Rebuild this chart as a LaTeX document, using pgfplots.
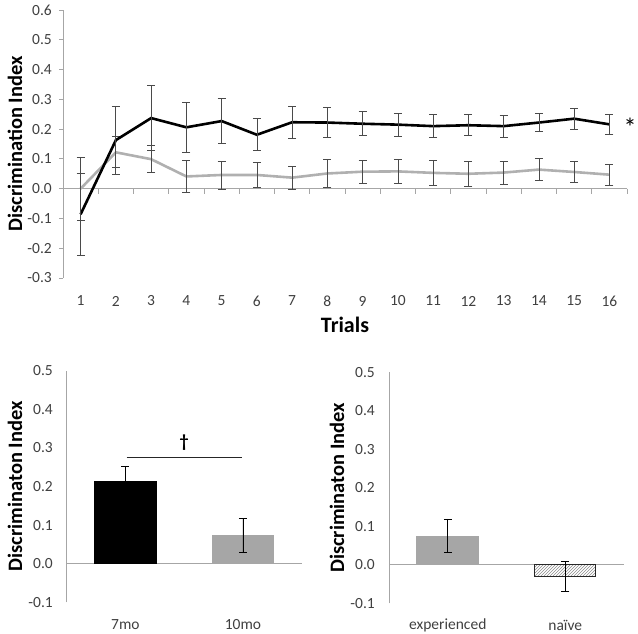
\documentclass[border=0pt]{standalone}
\usepackage{fontspec}
\setmainfont{Carlito}
\usepackage{pgfplots}
\pgfplotsset{compat=1.18}
\usetikzlibrary{patterns}
\definecolor{tickgray}{HTML}{404040}
\definecolor{axisgray}{HTML}{A6A6A6}
\definecolor{errgray}{HTML}{4A4A4A}
\definecolor{linegray}{HTML}{B0B0B0}
\definecolor{bargray}{HTML}{A6A6A6}
\definecolor{hatchgray}{HTML}{8C8C8C}

\pgfplotstableread{
x y e
1 -0.086 0.138
2 0.163 0.114
3 0.237 0.110
4 0.206 0.085
5 0.227 0.075
6 0.181 0.054
7 0.223 0.055
8 0.222 0.050
9 0.218 0.040
10 0.215 0.039
11 0.210 0.039
12 0.213 0.035
13 0.210 0.037
14 0.222 0.030
15 0.235 0.036
16 0.216 0.035
}\blackdata

\pgfplotstableread{
x y e
1 0.000 0.105
2 0.122 0.052
3 0.099 0.045
4 0.041 0.055
5 0.046 0.047
6 0.046 0.043
7 0.037 0.038
8 0.051 0.048
9 0.057 0.038
10 0.058 0.039
11 0.053 0.041
12 0.050 0.041
13 0.054 0.038
14 0.064 0.037
15 0.056 0.035
16 0.047 0.035
}\graydata

\pgfplotsset{
  common/.style={
    scale only axis,
    anchor=south west,
    clip=false,
    axis line style={draw=none},
    /pgf/number format/assume math mode=true,
    tick label style={font=\fontsize{15.5}{18}\selectfont, text=tickgray},
    yticklabel style={/pgf/number format/fixed, /pgf/number format/fixed zerofill, /pgf/number format/precision=1, anchor=east, inner sep=0pt},
    xticklabel style={anchor=center, inner sep=0pt},
    xtick style={draw=none},
    ytick pos=left,
    ylabel style={font=\bfseries\fontsize{20.5}{24}\selectfont, anchor=center},
  },
  errbars/.style={
    error bars/.cd, y dir=both, y explicit,
    error bar style={#1, line width=0.75pt},
    error mark options={#1, line width=0.75pt, mark size=4pt, rotate=90},
  },
  errbars/.default=errgray,
}

\begin{document}
\begin{tikzpicture}[x=1pt,y=1pt]
\useasboundingbox (0,0) rectangle (638,634);

% ---------------- top panel ----------------
\begin{axis}[common,
  at={(63pt,356pt)}, width=564pt, height=268pt,
  xmin=0.5, xmax=16.5, ymin=-0.3, ymax=0.6,
  xtick={1,2,3,4,5,6,7,8,9,10,11,12,13,14,15,16},
  ytick={-0.3,-0.2,-0.1,0,0.1,0.2,0.3,0.4,0.5,0.6},
  ytick style={axisgray, line width=0.8pt},
  tick align=outside, major tick length=4pt,
  yticklabel style={xshift=-7pt},
  xticklabel style={yshift=-19pt},
  xlabel={Trials},
  xlabel style={at={(axis description cs:0.5,-0.175)}, anchor=center, font=\bfseries\fontsize{22}{26}\selectfont},
  ylabel={Discrimination Index},
  ylabel style={at={(axis description cs:-0.0851,0.5)}},
]
\draw[axisgray, line width=0.8pt] (axis cs:0.5,-0.3) -- (axis cs:0.5,0.6);
\draw[axisgray, line width=0.8pt] (axis cs:0.5,0) -- (axis cs:16.5,0);
\pgfplotsinvokeforeach{0.5,1.5,...,16.5}{
  \draw[axisgray, line width=0.8pt] (axis cs:#1,0) -- ++(0pt,-5pt);
}
\addplot[linegray, line width=2.6pt, errbars] table[x=x, y=y, y error=e] {\graydata};
\addplot[black, line width=2.6pt, errbars] table[x=x, y=y, y error=e] {\blackdata};
\node[font=\fontsize{26}{28}\selectfont, anchor=center] at (axis cs:16.585,0.205) {*};
\end{axis}

% ---------------- bottom left ----------------
\begin{axis}[common,
  at={(66.7pt,31.7pt)}, width=235pt, height=231.6pt,
  xmin=-0.5, xmax=1.5, ymin=-0.1, ymax=0.5,
  xtick={0,1}, xticklabels={7mo, 10mo},
  ytick={-0.1,0,0.1,0.2,0.3,0.4,0.5},
  ytick style={draw=none},
  yticklabel style={xshift=-13.7pt},
  xticklabel style={yshift=-22.7pt},
  ylabel={Discriminaton Index},
  ylabel style={at={(axis description cs:-0.22,0.5)}},
]
\draw[axisgray, line width=0.8pt] (axis cs:-0.5,-0.1) -- (axis cs:-0.5,0.5);
\draw[axisgray, line width=0.8pt] (axis cs:-0.5,0) -- (axis cs:1.5,0);
\addplot[ybar, bar width=62.7pt, bar shift=0pt, fill=black, draw=none, errbars=black]
  coordinates {(0,0.215) +- (0,0.036)};
\addplot[ybar, bar width=62.7pt, bar shift=0pt, fill=bargray, draw=none, errbars=black]
  coordinates {(1,0.074) +- (0,0.044)};
\draw[black!85, line width=1.1pt] (axis cs:0.01,0.275) -- (axis cs:0.99,0.275);
\node[font=\bfseries\fontsize{18}{20}\selectfont] at (axis cs:0.5,0.313) {†};
\end{axis}

% ---------------- bottom right ----------------
\begin{axis}[common,
  at={(389pt,30.7pt)}, width=235pt, height=231pt,
  xmin=-0.5, xmax=1.5, ymin=-0.1, ymax=0.5,
  xtick={0,1}, xticklabels={experienced, naïve},
  ytick={-0.1,0,0.1,0.2,0.3,0.4,0.5},
  ytick style={draw=none},
  yticklabel style={xshift=-14pt},
  xticklabel style={yshift=-21.7pt},
  ylabel={Discriminaton Index},
  ylabel style={at={(axis description cs:-0.221,0.5)}},
]
\draw[axisgray, line width=0.8pt] (axis cs:-0.5,-0.1) -- (axis cs:-0.5,0.5);
\draw[axisgray, line width=0.8pt] (axis cs:-0.5,0) -- (axis cs:1.5,0);
\addplot[ybar, bar width=62.7pt, bar shift=0pt, fill=bargray, draw=none, errbars=black]
  coordinates {(0,0.075) +- (0,0.044)};
\addplot[ybar, bar width=61pt, bar shift=0pt, pattern=north east lines, pattern color=hatchgray, draw=black!85, line width=1.2pt, errbars=black]
  coordinates {(1,-0.030) +- (0,0.039)};
\end{axis}
\end{tikzpicture}
\end{document}
